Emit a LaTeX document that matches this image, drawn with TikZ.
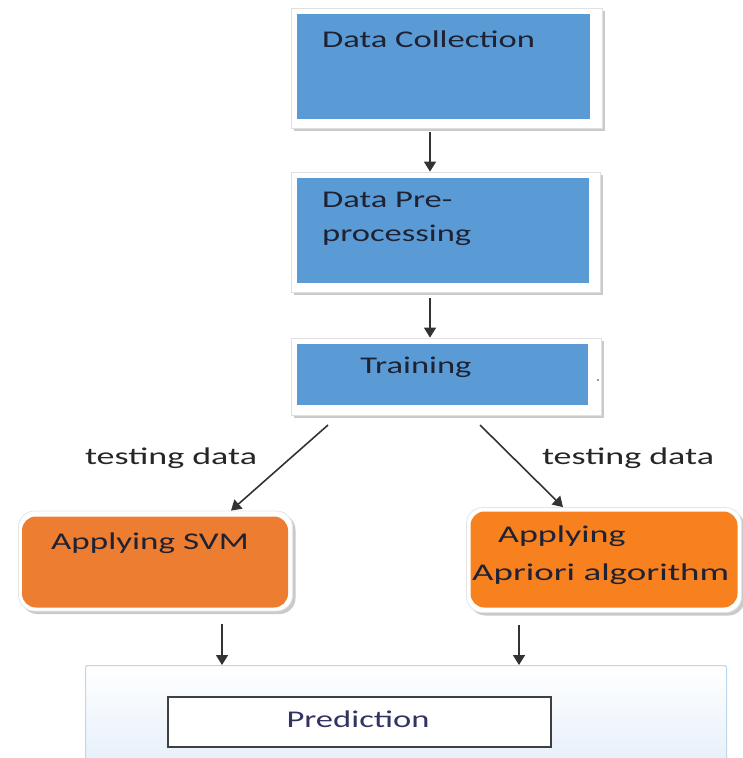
\documentclass[tikz,border=0pt]{standalone}
\usepackage{fontspec}
\setmainfont{Carlito}
\usetikzlibrary{arrows.meta,calc,shadows}
\definecolor{boxblue}{HTML}{5B9BD5}
\definecolor{svmorange}{HTML}{ED7D31}
\definecolor{aporange}{HTML}{F7801F}
\definecolor{txtdark}{HTML}{1E2233}
\definecolor{predblue}{HTML}{BDD7EE}
\definecolor{predfill}{HTML}{E3EEF9}
\newcommand{\wide}[2][1.44]{\scalebox{#1}[1]{#2}}
\begin{document}
\begin{tikzpicture}[x=1pt,y=-1pt,
  frame/.style={draw=black!12, fill=white, line width=0.8pt, inner sep=0pt,
    drop shadow={shadow xshift=3pt, shadow yshift=-3pt, fill=black!35, opacity=0.6}},
  bluebox/.style={fill=boxblue, draw=none, inner sep=0pt},
  rframe/.style={draw=black!10, fill=white, line width=0.8pt, rounded corners=16pt, inner sep=0pt,
    drop shadow={shadow xshift=3pt, shadow yshift=-3pt, fill=black!35, opacity=0.6}},
  orbox/.style={draw=none, rounded corners=14pt, inner sep=0pt},
  lbl/.style={font=\fontsize{24}{28}\selectfont, text=txtdark, inner sep=0pt, anchor=west},
  tlbl/.style={font=\fontsize{24}{28}\selectfont, text=black!85, inner sep=0pt},
  arr/.style={draw=black!80, line width=1.6pt, -{Triangle[length=10pt,width=12pt]}}
]
\useasboundingbox (0,0) rectangle (742,758);

% Data Collection
\node[frame, minimum width=311pt, minimum height=120pt] (dcf) at (446.5,68) {};
\node[bluebox, minimum width=293pt, minimum height=105pt] (dc) at (443.5,66.5) {};
\node[lbl] (dct) at (322,39) {\wide{Data Collection}};

% Data Pre-processing
\node[frame, minimum width=309pt, minimum height=120pt] (dpf) at (445.5,232) {};
\node[bluebox, minimum width=292pt, minimum height=105pt] (dp) at (443,230.5) {};
\node[lbl] (dpt1) at (322,200) {\wide{Data Pre-}};
\node[lbl] (dpt2) at (322,235) {\wide{processing}};

% Training
\node[frame, minimum width=310pt, minimum height=77pt] (trf) at (446,376.5) {};
\node[bluebox, minimum width=291pt, minimum height=61pt] (tr) at (442.5,374.5) {};
\node[lbl, anchor=center] (trt) at (416,367) {\wide{Training}};
\node[circle, fill=black!80, inner sep=0pt, minimum size=1.6pt] (dot) at (598,380) {};

% SVM
\node[rframe, minimum width=274pt, minimum height=100pt] (svf) at (155.5,561) {};
\node[orbox, fill=svmorange, minimum width=266pt, minimum height=91pt] (sv) at (155,562) {};
\node[lbl] (svt) at (51,543) {\wide[1.46]{Applying SVM}};

% Apriori
\node[rframe, minimum width=275pt, minimum height=105pt] (apf) at (604,560) {};
\node[orbox, fill=aporange, minimum width=267pt, minimum height=96pt] (ap) at (604,559.5) {};
\node[lbl] (apt1) at (498,536) {\wide[1.5]{Applying}};
\node[lbl] (apt2) at (472,574) {\wide[1.54]{Apriori algorithm}};

% Prediction container
\node[draw=predblue, line width=1.2pt, rounded corners=2pt, inner sep=0pt,
      top color=white, bottom color=predfill, minimum width=641pt, minimum height=110pt,
      anchor=north west] (pc) at (85,665) {};
\node[draw=black!75, line width=1.2pt, fill=white, minimum width=383pt, minimum height=50pt, inner sep=0pt]
  (pr) at (359.5,722) {};
\node[font=\fontsize{24}{28}\selectfont, text=black!70!blue!60!gray, inner sep=0pt] (prt) at (358,719) {\wide{Prediction}};

% connectors
\coordinate (ax) at (430,0);
\coordinate (lx) at (222,0);
\coordinate (rx) at (519,0);
\draw[arr] ($(dcf.south -| ax)+(0,4)$) -- (dpf.north -| ax);
\draw[arr] ($(dpf.south -| ax)+(0,6)$) -- (trf.north -| ax);
\coordinate (t1) at (328,425);
\coordinate (t2) at (480,425);
\draw[arr] (t1) -- (svf.north -| 231,0);
\draw[arr] (t2) -- (apf.north -| 563,0);
\draw[arr] ($(svf.south -| lx)+(0,13)$) -- (pc.north -| lx);
\draw[arr] ($(apf.south -| rx)+(0,12)$) -- (pc.north -| rx);

\node[tlbl] (tl1) at (171,458) {\wide[1.5]{testing data}};
\node[tlbl] (tl2) at (628,458) {\wide[1.5]{testing data}};
\end{tikzpicture}
\end{document}
